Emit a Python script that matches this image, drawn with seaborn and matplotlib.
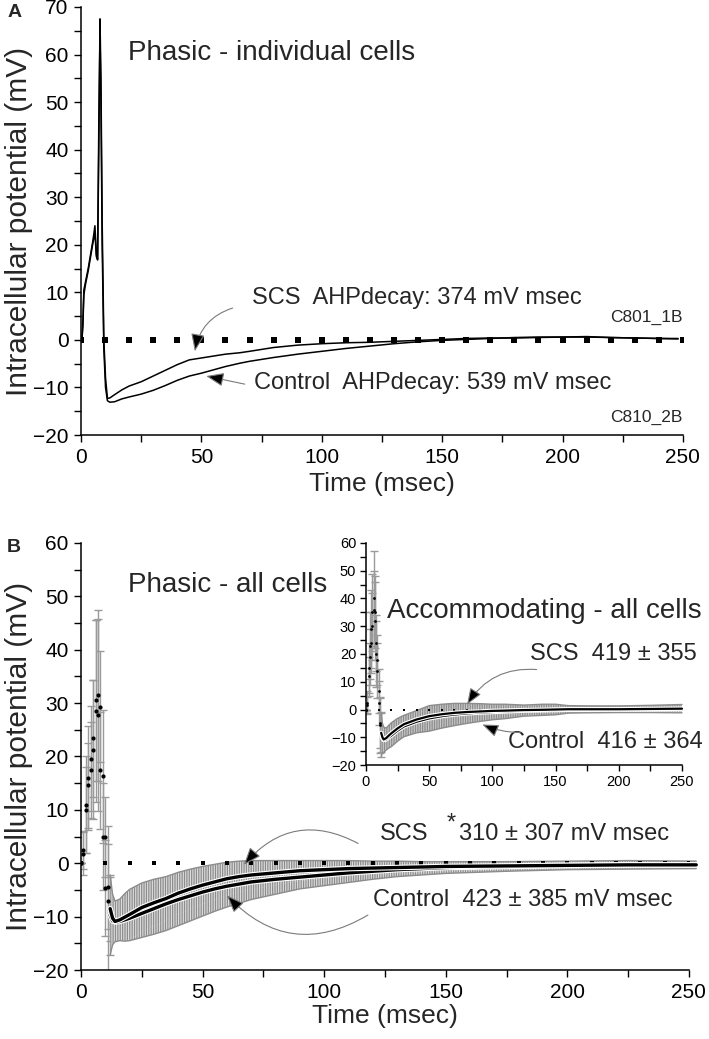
import numpy as np
import pandas as pd
import matplotlib
matplotlib.use("Agg")
import matplotlib.pyplot as plt
import matplotlib.patheffects as pe
from matplotlib.ticker import MultipleLocator
import seaborn as sns

# ---------------- Panel A: individual cells (ms, mV) ----------------
a_time = [0, 0.4, 0.8, 1.2, 2, 3, 4, 5, 5.8, 6.4, 6.9, 7.4, 7.9, 8.3, 8.8, 9.5, 10.2, 11, 12, 14,
          17, 20, 25, 30, 35, 40, 45, 50, 55, 60, 66, 70, 80, 90, 100, 110, 120, 130, 140, 150,
          160, 170, 180, 190, 200, 210, 220, 230, 240, 248]
a_scs = [0, 0, 4, 10.5, 12.5, 15, 18, 21, 24, 18, 16.8, 40, 67.5, 55, 25, 0, -8, -12.3, -12.2, -11.5,
         -10.5, -9.7, -8.8, -7.6, -6.4, -5.2, -4.2, -3.8, -3.4, -3.0, -2.7, -2.4, -1.6, -1.1, -0.8, -0.6, -0.5, -0.3, -0.1, 0.1,
         0.3, 0.4, 0.4, 0.5, 0.6, 0.6, 0.5, 0.4, 0.3, 0.3]
a_ctl = [0, 0, 3, 9.5, 12, 14.5, 17.5, 20.5, 22.5, 17.5, 17, 45, 64.5, 50, 20, -2, -10, -12.8, -13.1, -13.0,
         -12.4, -12.0, -11.4, -10.6, -9.6, -8.5, -7.6, -7.0, -6.3, -5.6, -4.9, -4.5, -3.7, -3.0, -2.4, -1.8, -1.3, -0.8, -0.4, -0.1,
         0.1, 0.3, 0.5, 0.6, 0.6, 0.7, 0.5, 0.4, 0.3, 0.2]

# ---------------- Panel B: phasic, all cells (mean +/- error) ----------------
b_time = [0, 1, 2, 3, 4, 5, 6, 7, 8, 9, 10, 11, 12, 13, 14,
          16, 18, 20, 25, 30, 35, 40, 45, 50, 55, 60, 65, 70, 80, 90, 100, 110, 120, 130, 140, 150, 175, 200, 225, 253]
b_scs_mean = [0, 2.5, 11.0, 16.0, 19.6, 23.4, 30.5, 31.5, 29.3, 16.3, 5.0, -4.4, -8.5, -10.3, -10.9,
              -10.6, -10.1, -9.6, -8.3, -7.4, -6.6, -5.6, -4.8, -4.1, -3.5, -2.9, -2.5, -2.2, -1.8, -1.4, -1.2, -1.0, -0.9, -0.8, -0.7, -0.6, -0.5, -0.4, -0.3, -0.3]
b_scs_err = [0, 3.5, 9.0, 9.8, 9.9, 11.0, 15.0, 16.0, 10.4, 12.5, 7.5, 8.0, 6.0, 4.5, 3.8,
             3.9, 4.4, 4.7, 4.6, 4.4, 4.1, 3.9, 3.7, 3.5, 3.3, 3.1, 2.9, 2.7, 2.3, 1.9, 1.7, 1.5, 1.3, 1.2, 1.0, 0.9, 0.7, 0.6, 0.5, 0.5]
b_ctl_mean = [0, 1.8, 10.0, 14.6, 17.5, 21.3, 28.5, 27.7, 17.4, 5.0, -4.6, -7.0, -9.7, -10.8, -11.0,
              -10.9, -10.6, -10.3, -9.4, -8.5, -7.6, -6.8, -6.1, -5.4, -4.8, -4.3, -3.9, -3.5, -3.0, -2.6, -2.2, -1.8, -1.5, -1.2, -1.0, -0.8, -0.6, -0.4, -0.3, -0.3]
b_ctl_err = [0, 4.0, 8.0, 8.0, 9.0, 13.0, 17.0, 18.0, 11.0, 10.0, 9.0, 14.0, 7.5, 4.5, 3.5,
             3.6, 4.0, 4.2, 4.5, 4.8, 5.0, 4.9, 4.7, 4.5, 4.2, 3.9, 3.6, 3.3, 2.8, 2.2, 2.0, 1.8, 1.5, 1.3, 1.2, 1.1, 0.9, 0.8, 0.8, 0.7]

# ---------------- Inset: accommodating, all cells ----------------
i_time = [0, 1, 2, 3, 4, 5, 6, 7, 8, 9, 10, 11, 12, 13, 14,
          16, 18, 20, 25, 30, 40, 50, 60, 70, 80, 90, 100, 110, 125, 140, 150, 160, 175, 200, 225, 250]
i_scs_mean = [0, 2.5, 15, 23, 29, 35, 40, 35, 24, 18, 6.6, -4.8, -8.4, -10.0, -10.8,
              -10.3, -9.4, -8.6, -6.8, -5.3, -3.6, -2.4, -1.7, -1.2, -0.9, -0.7, -0.5, -0.4, -0.2, -0.1, 0.0, 0.1, 0.1, 0.1, 0.2, 0.3]
i_scs_err = [0, 4, 9, 12, 14, 14, 17, 13, 10, 9, 8, 9, 7, 5, 4.5,
             3.6, 3.7, 3.8, 3.6, 3.2, 2.6, 2.0, 1.8, 1.7, 1.6, 1.5, 1.4, 1.4, 1.4, 2.0, 1.9, 1.3, 1.2, 1.2, 1.3, 1.5]
i_ctl_mean = [0, 1.6, 12, 19, 24, 30, 36, 32, 20, 14, 2.4, -5.5, -9.0, -10.4, -11.0,
              -10.8, -10.0, -9.4, -7.6, -6.1, -4.4, -3.2, -2.4, -1.8, -1.4, -1.1, -0.9, -0.7, -0.4, -0.3, -0.2, -0.1, -0.1, 0.0, 0.0, 0.1]
i_ctl_err = [0, 3, 7, 10, 11, 12, 14, 14, 12, 10, 8, 10, 8, 5, 4.5,
             3.8, 3.9, 4.0, 3.8, 3.7, 4.0, 4.6, 4.3, 4.0, 3.6, 3.2, 2.8, 2.6, 2.0, 1.5, 1.3, 1.2, 1.1, 1.0, 0.9, 0.8]

zero_ticks = list(range(0, 251, 10))

# ---------------- style ----------------
sns.set_theme(style="ticks")
plt.rcParams["font.family"] = ["Liberation Sans", "DejaVu Sans"]
plt.rcParams["hatch.linewidth"] = 0.9
plt.rcParams["axes.unicode_minus"] = True

fig = plt.figure(figsize=(7.09, 10.39), dpi=100)
axA = fig.add_axes([0.1142, 0.5813, 0.849, 0.412])
axB = fig.add_axes([0.1142, 0.0664, 0.8575, 0.411])
axI = fig.add_axes([0.5162, 0.2637, 0.4457, 0.2137])
axI.set_facecolor("none")

TICK_FS = 15
LABEL_FS_X = 19
LABEL_FS_Y = 21.5
TITLE_FS = 20
ANN_FS = 17


def style(ax, ylim, fs, ticklen=5, pad=4):
    ax.set_xlim(0, 250)
    ax.set_ylim(*ylim)
    for s in ["top", "right"]:
        ax.spines[s].set_visible(False)
    for s in ["left", "bottom"]:
        ax.spines[s].set_linewidth(1.1)
        ax.spines[s].set_color("black")
    ax.xaxis.set_major_locator(MultipleLocator(50))
    ax.xaxis.set_minor_locator(MultipleLocator(25))
    ax.yaxis.set_major_locator(MultipleLocator(10))
    ax.yaxis.set_minor_locator(MultipleLocator(5))
    ax.tick_params(which="both", direction="out", length=ticklen, width=1,
                   colors="black", labelsize=fs, pad=pad)


def arrow(ax, xy, xytext, rad, ms=12):
    ax.annotate("", xy=xy, xytext=xytext,
                arrowprops=dict(arrowstyle="-|>,head_length=0.9,head_width=0.35",
                                mutation_scale=ms, ec="#7a7a7a", fc="black", lw=0.8,
                                shrinkA=0, shrinkB=0,
                                connectionstyle=f"arc3,rad={rad}"))


GRAY_BAR = "#9a9a9a"

# ---------------- Panel A ----------------
style(axA, (-20, 70), TICK_FS)
sns.scatterplot(x=zero_ticks, y=[0] * len(zero_ticks), marker="s", s=13, color="black",
                linewidth=0, ax=axA, zorder=2)
sns.lineplot(x=a_time, y=a_ctl, color="black", lw=1.1, ax=axA, sort=False, estimator=None, zorder=3)
sns.lineplot(x=a_time, y=a_scs, color="black", lw=1.1, ax=axA, sort=False, estimator=None, zorder=3)
axA.set_xlabel("Time (msec)", fontsize=LABEL_FS_X, labelpad=4)
axA.set_ylabel("Intracellular potential (mV)", fontsize=LABEL_FS_Y)
axA.yaxis.set_label_coords(-0.08, 0.5)
axA.text(19.5, 60.3, "Phasic - individual cells", fontsize=TITLE_FS, va="center", ha="left")
axA.text(71, 8.8, "SCS  AHPdecay: 374 mV msec", fontsize=ANN_FS, va="center", ha="left")
axA.text(72, -9.0, "Control  AHPdecay: 539 mV msec", fontsize=ANN_FS, va="center", ha="left")
axA.text(250, 4.8, "C801_1B", fontsize=12.5, va="center", ha="right")
axA.text(250, -16.4, "C810_2B", fontsize=12.5, va="center", ha="right")
arrow(axA, (47.3, -2.4), (63, 6.7), 0.3)
arrow(axA, (52, -7.6), (68, -9.3), 0.0)


# ---------------- mean +/- error panels ----------------
def draw_avg(ax, t, series, dot_s, lw, zero_s, hatch_fc, split=12):
    t = np.asarray(t, float)
    spk = t <= split
    dec = t >= split
    ups, los = [], []
    for m, e in series:
        m = np.asarray(m, float)
        e = np.asarray(e, float)
        ax.errorbar(t[spk], m[spk], yerr=e[spk], fmt="none", ecolor=GRAY_BAR,
                    elinewidth=1.0, capsize=3, capthick=1.0, zorder=1)
        ax.fill_between(t[dec], m[dec] - e[dec], m[dec] + e[dec], facecolor=hatch_fc,
                        edgecolor="#8c8c8c", hatch="|||||||", linewidth=0, zorder=1, clip_on=False)
        ups.append(m[dec] + e[dec])
        los.append(m[dec] - e[dec])
    ax.plot(t[dec], np.maximum(*ups), color="#8c8c8c", lw=1.0, zorder=1, clip_on=False)
    ax.plot(t[dec], np.minimum(*los), color="#8c8c8c", lw=1.0, zorder=1, clip_on=False)
    sns.scatterplot(x=zero_ticks, y=[0] * len(zero_ticks), marker="s", s=zero_s, color="black",
                    linewidth=0, ax=ax, zorder=2)
    for m, e in series:
        m = np.asarray(m, float)
        sns.scatterplot(x=t[spk], y=m[spk], s=dot_s, color="black", linewidth=0, ax=ax, zorder=4)
        sns.lineplot(x=t[dec], y=m[dec], color="black", lw=lw, ax=ax, sort=False,
                     estimator=None, zorder=4)
        ln = ax.lines[-1]
        ln.set_clip_on(False)
        ln.set_path_effects([pe.Stroke(linewidth=lw + 1.6, foreground="white"), pe.Normal()])


style(axB, (-20, 60), TICK_FS)
draw_avg(axB, b_time, [(b_ctl_mean, b_ctl_err), (b_scs_mean, b_scs_err)], 9, 2.4, 12, "#dedede")
axB.set_xlabel("Time (msec)", fontsize=LABEL_FS_X, labelpad=2)
axB.set_ylabel("Intracellular potential (mV)", fontsize=LABEL_FS_Y)
axB.yaxis.set_label_coords(-0.079, 0.5)
axB.text(19.5, 52.1, "Phasic - all cells", fontsize=TITLE_FS, va="center", ha="left")
axB.text(123, 5.4, "SCS", fontsize=ANN_FS, va="center", ha="left")
axB.text(150.5, 7.4, "*", fontsize=ANN_FS, va="center", ha="left")
axB.text(155.5, 5.4, "310 ± 307 mV msec", fontsize=ANN_FS, va="center", ha="left")
axB.text(120, -6.9, "Control  423 ± 385 mV msec", fontsize=ANN_FS, va="center", ha="left")
arrow(axB, (67, -0.3), (114, 3.7), 0.4)
arrow(axB, (60, -6.0), (118, -9.7), -0.4)

# ---------------- Inset ----------------
style(axI, (-20, 60), 10.5, ticklen=4, pad=3)
draw_avg(axI, i_time, [(i_ctl_mean, i_ctl_err), (i_scs_mean, i_scs_err)], 4, 1.6, 3, "#c8c8c8")
axI.set_xlabel("")
axI.set_ylabel("")
axI.text(16.6, 35.4, "Accommodating - all cells", fontsize=TITLE_FS, va="center", ha="left")
axI.text(130, 19.9, "SCS  419 ± 355", fontsize=ANN_FS, va="center", ha="left")
axI.text(112, -11.6, "Control  416 ± 364", fontsize=ANN_FS, va="center", ha="left")
arrow(axI, (80, 1.8), (135, 14.4), 0.3, ms=11)
arrow(axI, (92, -5.4), (122, -8.3), -0.1, ms=11)

fig.text(0.010, 0.988, "A", fontsize=14, fontweight="bold", va="center", ha="left")
fig.text(0.010, 0.4726, "B", fontsize=14, fontweight="bold", va="center", ha="left")

fig.savefig("out.png", dpi=100)
